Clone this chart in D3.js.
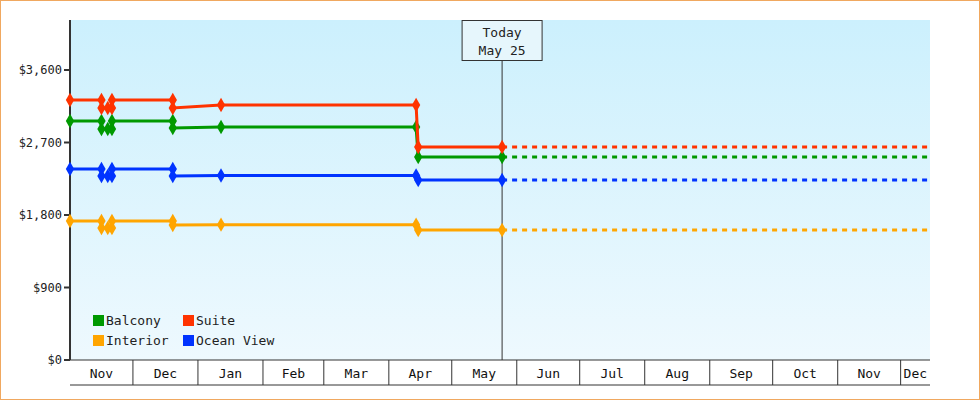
<!DOCTYPE html>
<html><head><meta charset="utf-8">
<script src="https://cdn.jsdelivr.net/npm/d3@7"></script>
<style>body{margin:0}svg{display:block;font-family:"DejaVu Sans Mono",monospace}</style>
</head><body><div id="chart"></div>
<script>
// change dates: each step has a point at the old and new level
var dates = ["2023-11-01","2023-11-16","2023-11-16","2023-11-19","2023-11-21","2023-11-21","2023-12-20","2023-12-20","2024-01-12","2024-04-14","2024-04-15","2024-05-25"];
var balcony   = [2967,2967,2868,2868,2868,2967,2967,2880,2892,2892,2520,2520];
var suite     = [3228,3228,3128,3128,3128,3228,3228,3128,3166,3166,2644,2644];
var oceanView = [2371,2371,2284,2284,2284,2371,2371,2284,2290,2290,2234,2234];
var interior  = [1725,1725,1639,1639,1639,1725,1725,1676,1680,1680,1614,1614];
var yTicks = [0, 900, 1800, 2700, 3600];
var today = "2024-05-25", end = "2024-12-15";

var series = [
  {name: "Balcony", values: balcony, color: "#009900"},
  {name: "Suite", values: suite, color: "#ff3300"},
  {name: "Interior", values: interior, color: "#ffa500"},
  {name: "Ocean View", values: oceanView, color: "#0033ff"}
];

var W = 980, H = 400, L = 70, R = 930, T = 20, B = 360,
    parse = d3.timeParse("%Y-%m-%d"),
    x = d3.scaleTime().domain([parse(dates[0]), parse(end)]).range([L, R]),
    y = d3.scaleLinear().domain([0, 3600]).range([B, 70]);

var svg = d3.select("#chart").append("svg").attr("width", W).attr("height", H);
var grad = svg.append("defs").append("linearGradient").attr("id", "bg").attr("x1", 0).attr("x2", 0).attr("y1", 0).attr("y2", 1);
grad.append("stop").attr("offset", "0").attr("stop-color", "#ccf0fd");
grad.append("stop").attr("offset", "1").attr("stop-color", "#eef9fe");
svg.append("rect").attr("x", 0.5).attr("y", 0.5).attr("width", W - 1).attr("height", H - 1).attr("fill", "#fff").attr("stroke", "#f0a860");
svg.append("rect").attr("x", L).attr("y", T).attr("width", R - L).attr("height", B - T).attr("fill", "url(#bg)");

// y axis
svg.append("line").attr("x1", L).attr("x2", L).attr("y1", T).attr("y2", B).attr("stroke", "#333").attr("stroke-width", 2);
yTicks.forEach(function(v) {
  svg.append("line").attr("x1", L - 6).attr("x2", L).attr("y1", y(v)).attr("y2", y(v)).attr("stroke", "#333").attr("stroke-width", 2);
  svg.append("text").attr("x", L - 8).attr("y", y(v) + 4).attr("text-anchor", "end").attr("font-size", 12).attr("fill", "#222")
    .text("$" + d3.format(",")(v));
});

// x axis month band
svg.append("line").attr("x1", L).attr("x2", R).attr("y1", B).attr("y2", B).attr("stroke", "#333");
svg.append("line").attr("x1", L).attr("x2", R).attr("y1", 385).attr("y2", 385).attr("stroke", "#333");
var months = d3.timeMonth.range(x.domain()[0], x.domain()[1]);
months.forEach(function(m) {
  var x0 = x(m), x1 = Math.min(R, x(d3.timeMonth.offset(m, 1)));
  if (x0 > L) svg.append("line").attr("x1", x0).attr("x2", x0).attr("y1", B).attr("y2", 385).attr("stroke", "#333");
  svg.append("text").attr("x", (x0 + x1) / 2).attr("y", 378).attr("text-anchor", "middle").attr("font-size", 13).attr("fill", "#111")
    .text(d3.timeFormat("%b")(m));
});

// today line
var tx = x(parse(today));
svg.append("line").attr("x1", tx).attr("x2", tx).attr("y1", 60).attr("y2", B).attr("stroke", "#333");
svg.append("rect").attr("x", tx - 40).attr("y", 20.5).attr("width", 80).attr("height", 40).attr("fill", "#e6f6fc").attr("stroke", "#333");
svg.append("text").attr("x", tx).attr("y", 37).attr("text-anchor", "middle").attr("font-size", 13).attr("fill", "#222").text("Today");
svg.append("text").attr("x", tx).attr("y", 55).attr("text-anchor", "middle").attr("font-size", 13).attr("fill", "#222").text("May 25");

var line = d3.line().x(function(d) { return x(d[0]); }).y(function(d) { return y(d[1]); });
series.forEach(function(s) {
  var pts = dates.map(function(d, i) { return [parse(d), s.values[i]]; });
  var last = pts[pts.length - 1];
  svg.append("path").attr("d", line([last, [parse(end), last[1]]])).attr("fill", "none")
    .attr("stroke", s.color).attr("stroke-width", 3).attr("stroke-dasharray", "5,5");
  svg.append("path").attr("d", line(pts)).attr("fill", "none").attr("stroke", s.color).attr("stroke-width", 3);
  svg.selectAll(null).data(pts).enter().append("path")
    .attr("transform", function(d) { return "translate(" + x(d[0]) + "," + y(d[1]) + ")"; })
    .attr("d", d3.symbol(d3.symbolDiamond, 60)).attr("fill", s.color);
});

// legend
series.forEach(function(s, i) {
  var lx = 93 + (i % 2) * 90, ly = 315 + Math.floor(i / 2) * 20;
  svg.append("rect").attr("x", lx).attr("y", ly).attr("width", 11).attr("height", 11).attr("fill", s.color);
  svg.append("text").attr("x", lx + 13).attr("y", ly + 10).attr("font-size", 13).attr("fill", "#222").text(s.name);
});
</script></body></html>
